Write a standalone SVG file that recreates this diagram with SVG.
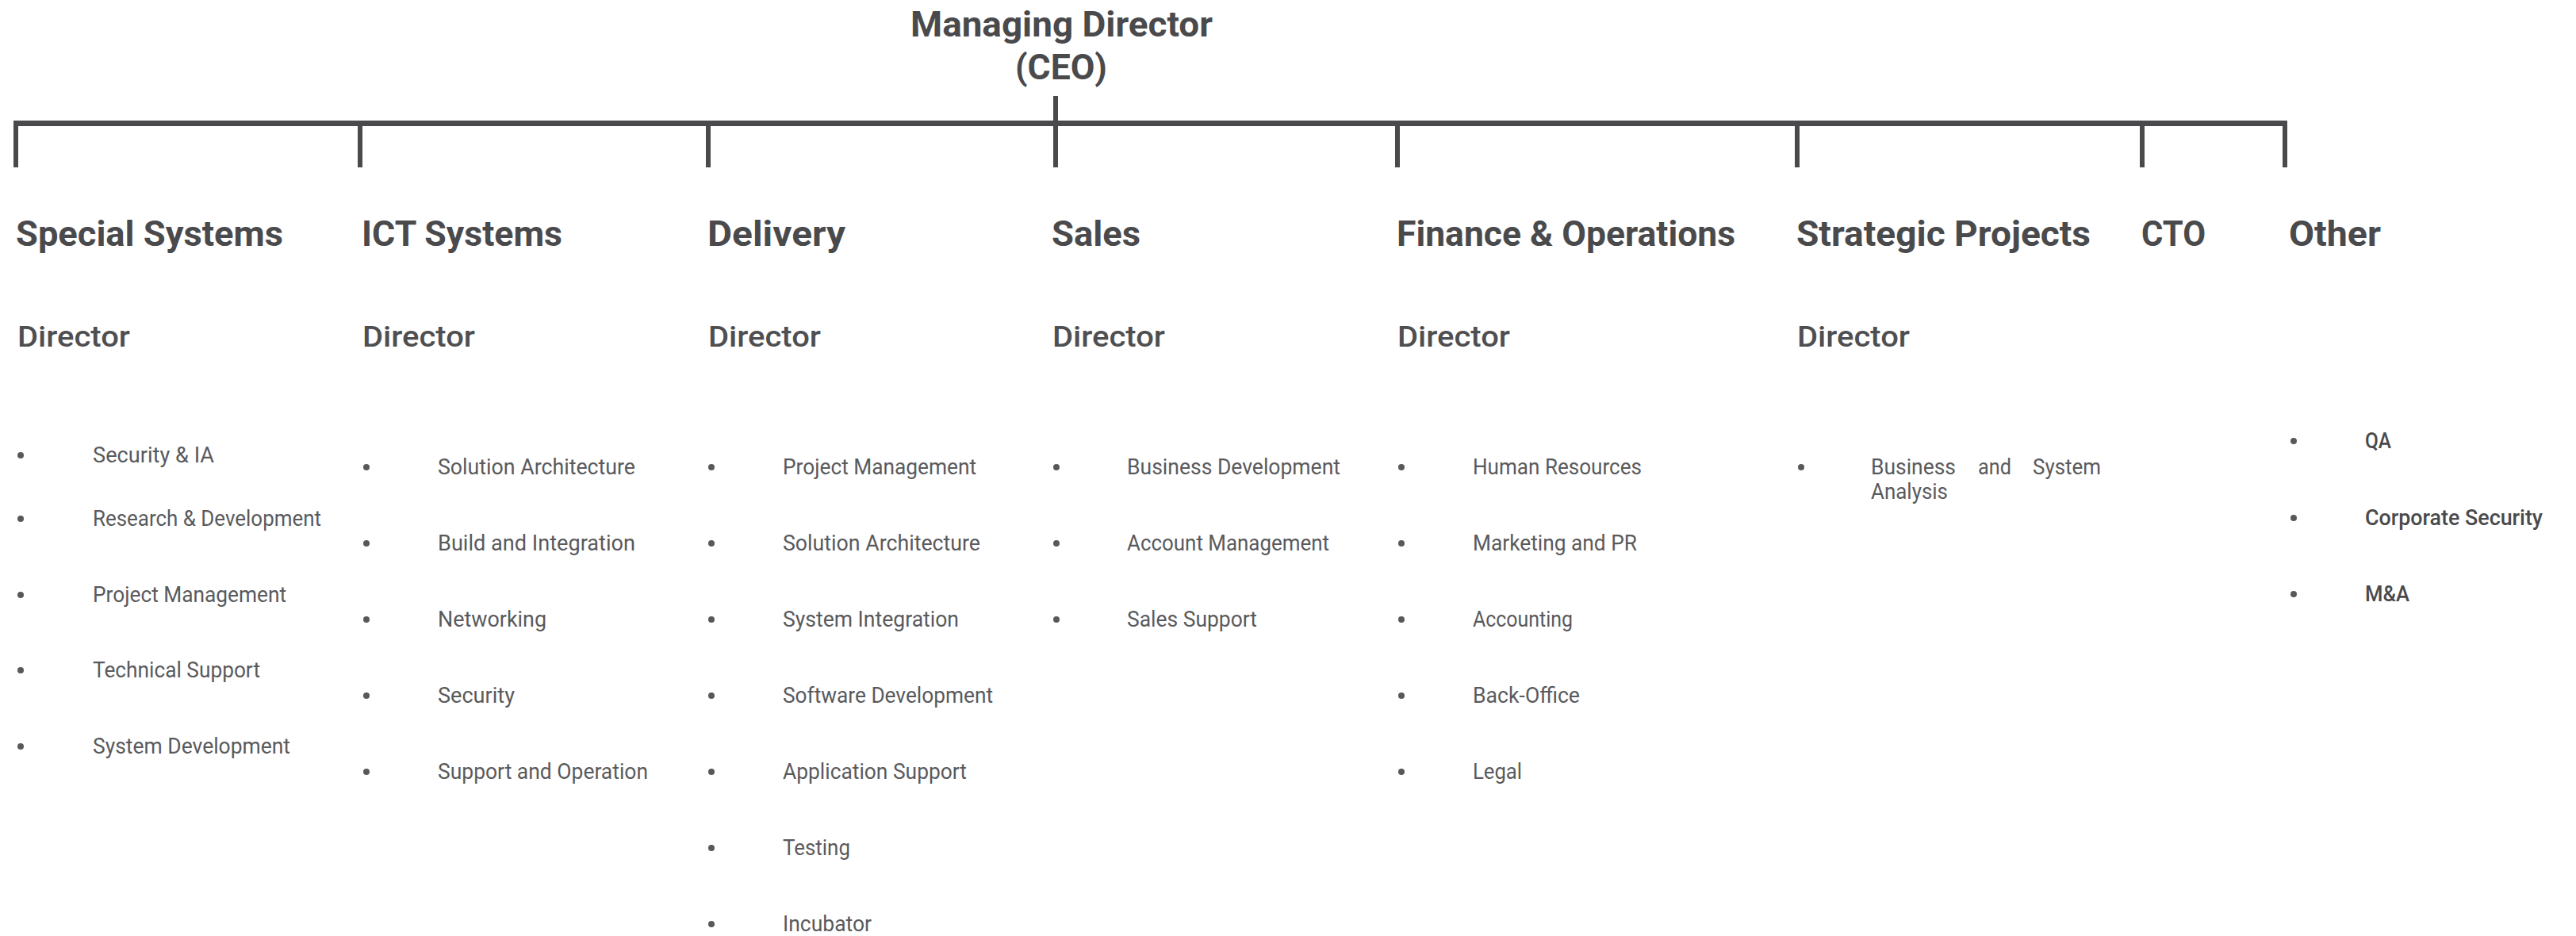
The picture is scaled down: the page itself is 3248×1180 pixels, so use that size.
<svg xmlns="http://www.w3.org/2000/svg" width="3248" height="1180" viewBox="0 0 3248 1180">
<style>
text{font-family:Roboto,"Liberation Sans",sans-serif;fill:#4a4a4c}
.top{font-size:44px;font-weight:700}
.hd{font-size:44px;font-weight:700}
.dir{font-size:37px;font-weight:500;fill:#4f4f51}
.it{font-size:28px;font-weight:400;fill:#5a5a5c}
.ot{font-size:28px;font-weight:500;fill:#4a4a4c}
.bl{fill:#58585a}
</style>
<rect width="3248" height="1180" fill="#ffffff"/>
<g id="connectors">
<rect x="17" y="152" width="2867" height="7" fill="#4a4a4c"/>
<rect x="1328" y="121" width="6" height="31" fill="#4a4a4c"/>
<rect x="17" y="152" width="6" height="59" fill="#4a4a4c"/>
<rect x="451" y="152" width="6" height="59" fill="#4a4a4c"/>
<rect x="890" y="152" width="6" height="59" fill="#4a4a4c"/>
<rect x="1328" y="152" width="6" height="59" fill="#4a4a4c"/>
<rect x="1759" y="152" width="6" height="59" fill="#4a4a4c"/>
<rect x="2263" y="152" width="6" height="59" fill="#4a4a4c"/>
<rect x="2698" y="152" width="6" height="59" fill="#4a4a4c"/>
<rect x="2878" y="152" width="6" height="59" fill="#4a4a4c"/>
</g>
<g id="ceo">
<text class="top" x="1148" y="46" textLength="381" lengthAdjust="spacingAndGlyphs">Managing Director</text>
<text class="top" x="1280" y="100" textLength="116" lengthAdjust="spacingAndGlyphs">(CEO)</text>
</g>
<g id="special-systems">
<text class="hd" x="20" y="310" textLength="337" lengthAdjust="spacingAndGlyphs">Special Systems</text>
<text class="dir" x="22" y="437" textLength="142" lengthAdjust="spacingAndGlyphs">Director</text>
<circle class="bl" cx="26" cy="574" r="4"/><text class="it" x="117" y="583" textLength="153" lengthAdjust="spacingAndGlyphs">Security &amp; IA</text>
<circle class="bl" cx="26" cy="654" r="4"/><text class="it" x="117" y="663" textLength="288" lengthAdjust="spacingAndGlyphs">Research &amp; Development</text>
<circle class="bl" cx="26" cy="750" r="4"/><text class="it" x="117" y="759" textLength="244" lengthAdjust="spacingAndGlyphs">Project Management</text>
<circle class="bl" cx="26" cy="845" r="4"/><text class="it" x="117" y="854" textLength="211" lengthAdjust="spacingAndGlyphs">Technical Support</text>
<circle class="bl" cx="26" cy="941" r="4"/><text class="it" x="117" y="950" textLength="249" lengthAdjust="spacingAndGlyphs">System Development</text>
</g>
<g id="ict-systems">
<text class="hd" x="456" y="310" textLength="253" lengthAdjust="spacingAndGlyphs">ICT Systems</text>
<text class="dir" x="457" y="437" textLength="142" lengthAdjust="spacingAndGlyphs">Director</text>
<circle class="bl" cx="462" cy="589" r="4"/><text class="it" x="552" y="598" textLength="249" lengthAdjust="spacingAndGlyphs">Solution Architecture</text>
<circle class="bl" cx="462" cy="685" r="4"/><text class="it" x="552" y="694" textLength="249" lengthAdjust="spacingAndGlyphs">Build and Integration</text>
<circle class="bl" cx="462" cy="781" r="4"/><text class="it" x="552" y="790" textLength="137" lengthAdjust="spacingAndGlyphs">Networking</text>
<circle class="bl" cx="462" cy="877" r="4"/><text class="it" x="552" y="886" textLength="97" lengthAdjust="spacingAndGlyphs">Security</text>
<circle class="bl" cx="462" cy="973" r="4"/><text class="it" x="552" y="982" textLength="265" lengthAdjust="spacingAndGlyphs">Support and Operation</text>
</g>
<g id="delivery">
<text class="hd" x="892" y="310" textLength="174" lengthAdjust="spacingAndGlyphs">Delivery</text>
<text class="dir" x="893" y="437" textLength="142" lengthAdjust="spacingAndGlyphs">Director</text>
<circle class="bl" cx="897" cy="589" r="4"/><text class="it" x="987" y="598" textLength="244" lengthAdjust="spacingAndGlyphs">Project Management</text>
<circle class="bl" cx="897" cy="685" r="4"/><text class="it" x="987" y="694" textLength="249" lengthAdjust="spacingAndGlyphs">Solution Architecture</text>
<circle class="bl" cx="897" cy="781" r="4"/><text class="it" x="987" y="790" textLength="222" lengthAdjust="spacingAndGlyphs">System Integration</text>
<circle class="bl" cx="897" cy="877" r="4"/><text class="it" x="987" y="886" textLength="265" lengthAdjust="spacingAndGlyphs">Software Development</text>
<circle class="bl" cx="897" cy="973" r="4"/><text class="it" x="987" y="982" textLength="232" lengthAdjust="spacingAndGlyphs">Application Support</text>
<circle class="bl" cx="897" cy="1069" r="4"/><text class="it" x="987" y="1078" textLength="85" lengthAdjust="spacingAndGlyphs">Testing</text>
<circle class="bl" cx="897" cy="1165" r="4"/><text class="it" x="987" y="1174" textLength="112" lengthAdjust="spacingAndGlyphs">Incubator</text>
</g>
<g id="sales">
<text class="hd" x="1326" y="310" textLength="112" lengthAdjust="spacingAndGlyphs">Sales</text>
<text class="dir" x="1327" y="437" textLength="142" lengthAdjust="spacingAndGlyphs">Director</text>
<circle class="bl" cx="1332" cy="589" r="4"/><text class="it" x="1421" y="598" textLength="269" lengthAdjust="spacingAndGlyphs">Business Development</text>
<circle class="bl" cx="1332" cy="685" r="4"/><text class="it" x="1421" y="694" textLength="255" lengthAdjust="spacingAndGlyphs">Account Management</text>
<circle class="bl" cx="1332" cy="781" r="4"/><text class="it" x="1421" y="790" textLength="164" lengthAdjust="spacingAndGlyphs">Sales Support</text>
</g>
<g id="finance-operations">
<text class="hd" x="1761" y="310" textLength="427" lengthAdjust="spacingAndGlyphs">Finance &amp; Operations</text>
<text class="dir" x="1762" y="437" textLength="142" lengthAdjust="spacingAndGlyphs">Director</text>
<circle class="bl" cx="1767" cy="589" r="4"/><text class="it" x="1857" y="598" textLength="213" lengthAdjust="spacingAndGlyphs">Human Resources</text>
<circle class="bl" cx="1767" cy="685" r="4"/><text class="it" x="1857" y="694" textLength="207" lengthAdjust="spacingAndGlyphs">Marketing and PR</text>
<circle class="bl" cx="1767" cy="781" r="4"/><text class="it" x="1857" y="790" textLength="126" lengthAdjust="spacingAndGlyphs">Accounting</text>
<circle class="bl" cx="1767" cy="877" r="4"/><text class="it" x="1857" y="886" textLength="135" lengthAdjust="spacingAndGlyphs">Back-Office</text>
<circle class="bl" cx="1767" cy="973" r="4"/><text class="it" x="1857" y="982" textLength="62" lengthAdjust="spacingAndGlyphs">Legal</text>
</g>
<g id="strategic-projects">
<text class="hd" x="2265" y="310" textLength="371" lengthAdjust="spacingAndGlyphs">Strategic Projects</text>
<text class="dir" x="2266" y="437" textLength="142" lengthAdjust="spacingAndGlyphs">Director</text>
<circle class="bl" cx="2271" cy="589" r="4"/>
<text class="it" y="598"><tspan x="2359" textLength="107" lengthAdjust="spacingAndGlyphs">Business</tspan><tspan x="2494" textLength="42" lengthAdjust="spacingAndGlyphs">and</tspan><tspan x="2563" textLength="86" lengthAdjust="spacingAndGlyphs">System</tspan></text>
<text class="it" x="2359" y="629" textLength="97" lengthAdjust="spacingAndGlyphs">Analysis</text>
</g>
<g id="cto">
<text class="hd" x="2700" y="310" textLength="81" lengthAdjust="spacingAndGlyphs">CTO</text>
</g>
<g id="other">
<text class="hd" x="2886" y="310" textLength="116" lengthAdjust="spacingAndGlyphs">Other</text>
<circle class="bl" cx="2892" cy="556" r="4"/><text class="ot" x="2982" y="565" textLength="33" lengthAdjust="spacingAndGlyphs">QA</text>
<circle class="bl" cx="2892" cy="653" r="4"/><text class="ot" x="2982" y="662" textLength="224" lengthAdjust="spacingAndGlyphs">Corporate Security</text>
<circle class="bl" cx="2892" cy="749" r="4"/><text class="ot" x="2982" y="758" textLength="56" lengthAdjust="spacingAndGlyphs">M&amp;A</text>
</g>
</svg>
